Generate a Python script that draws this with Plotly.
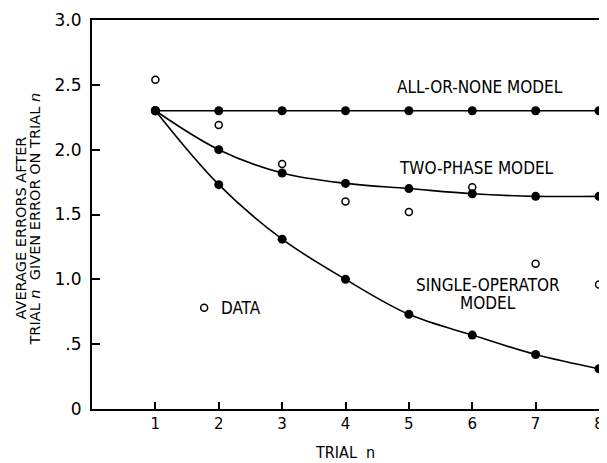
import plotly.graph_objects as go

trials = [1, 2, 3, 4, 5, 6, 7, 8]
all_or_none = [2.30, 2.30, 2.30, 2.30, 2.30, 2.30, 2.30, 2.30]
two_phase = [2.30, 2.00, 1.82, 1.74, 1.70, 1.66, 1.64, 1.64]
single_operator = [2.30, 1.73, 1.31, 1.00, 0.73, 0.57, 0.42, 0.31]
data_obs = [2.54, 2.19, 1.89, 1.60, 1.52, 1.71, 1.12, 0.96]
legend_pt = ([1.77], [0.78])

y_tickvals = [0, 0.5, 1.0, 1.5, 2.0, 2.5, 3.0]
y_ticktext = ["0", ".5", "1.0", "1.5", "2.0", "2.5", "3.0"]
x_tickvals = [1, 2, 3, 4, 5, 6, 7, 8]

LBL = "DejaVu Sans Condensed, Liberation Sans Narrow, DejaVu Sans"

# target plot area in page pixels: x 92..599, y 20..409 (page body has 8px margin)
PW, PH = 507, 389

fig = go.Figure()
line_style = dict(color="black", width=1.6)
filled = dict(color="black", size=9)
for ys, shape in [(all_or_none, "linear"), (two_phase, "spline"), (single_operator, "spline")]:
    fig.add_trace(go.Scatter(x=trials, y=ys, mode="lines+markers",
                             line=dict(shape=shape, **line_style), marker=filled,
                             showlegend=False, cliponaxis=False))
open_marker = dict(symbol="circle-open", color="black", size=7, line=dict(width=1.5))
fig.add_trace(go.Scatter(x=trials, y=data_obs, mode="markers", marker=open_marker,
                         showlegend=False, cliponaxis=False))
fig.add_trace(go.Scatter(x=legend_pt[0], y=legend_pt[1], mode="markers",
                         marker=open_marker, showlegend=False))

txt = dict(family=LBL, size=17, color="black")
fig.add_annotation(x=6.12, y=2.48, text="ALL-OR-NONE MODEL", showarrow=False, font=txt)
fig.add_annotation(x=6.07, y=1.86, text="TWO-PHASE MODEL", showarrow=False, font=txt)
fig.add_annotation(x=6.25, y=0.955, text="SINGLE-OPERATOR", showarrow=False, font=txt)
fig.add_annotation(x=6.25, y=0.815, text="MODEL", showarrow=False, font=txt)
fig.add_annotation(x=2.0, y=0.78, text="DATA", showarrow=False, font=txt, xanchor="left")

ytfont = dict(family="DejaVu Sans", size=14.5, color="black")
fig.add_annotation(x=(20.5 - 92) / PW, y=(409 - 228) / PH, xref="paper", yref="paper",
                   text="AVERAGE ERRORS AFTER", showarrow=False, textangle=-90,
                   font=ytfont, xanchor="center", yanchor="middle")
fig.add_annotation(x=(34.5 - 92) / PW, y=(409 - 219) / PH, xref="paper", yref="paper",
                   text="TRIAL <i>n</i>  GIVEN ERROR ON TRIAL <i>n</i>", showarrow=False,
                   textangle=-90, font=ytfont, xanchor="center", yanchor="middle")
fig.add_annotation(x=(345 - 92) / PW, y=-(452 - 409) / PH, xref="paper", yref="paper",
                   text="TRIAL  n", showarrow=False, font=dict(family=LBL, size=16, color="black"),
                   xanchor="center", yanchor="middle")

fig.update_layout(
    width=599, height=455,
    margin=dict(l=84, r=8, t=12, b=54),
    paper_bgcolor="white", plot_bgcolor="white",
    font=dict(family="DejaVu Sans", size=16, color="black"),
    xaxis=dict(range=[0, 8], tickvals=x_tickvals, ticks="inside", ticklen=7,
               tickwidth=1.5, tickcolor="black", showline=True, mirror=True,
               linecolor="black", linewidth=2, showgrid=False, zeroline=False,
               automargin=False, tickfont=dict(size=15)),
    yaxis=dict(range=[0, 3], tickvals=y_tickvals, ticktext=y_ticktext, ticks="inside",
               ticklen=8, tickwidth=1.5, tickcolor="black", showline=True, mirror=True,
               linecolor="black", linewidth=2, showgrid=False, zeroline=False,
               automargin=False, ticklabelstandoff=5, tickfont=dict(size=17)),
)

fig.write_html("out.html")
